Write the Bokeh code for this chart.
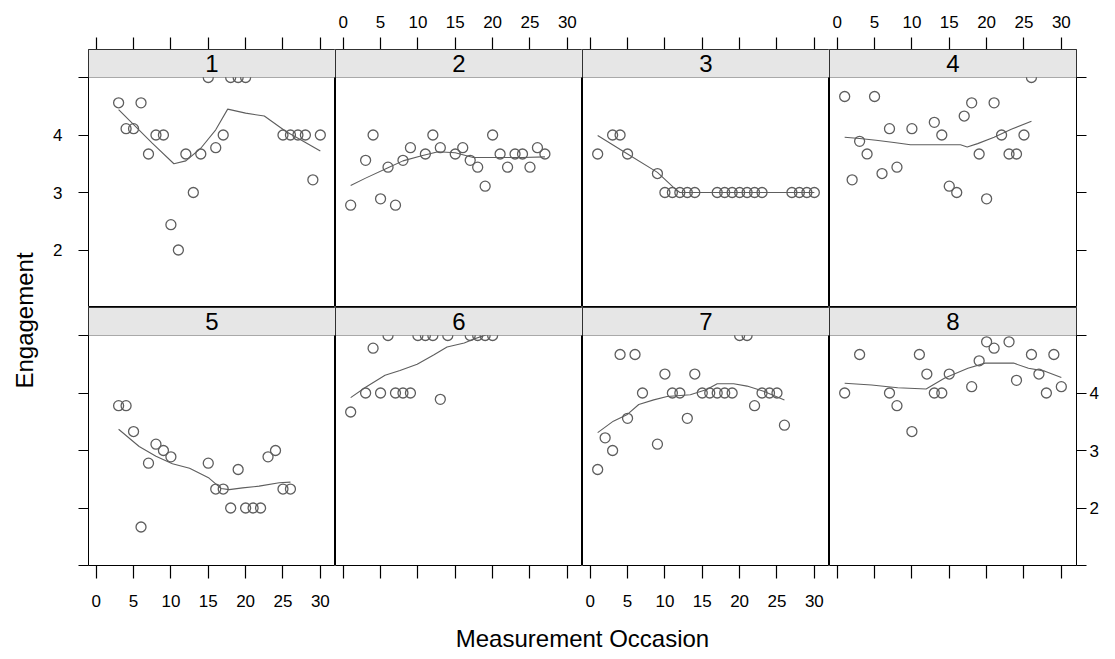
from bokeh.plotting import figure
from bokeh.models import Range1d, FixedTicker, BoxAnnotation, Label, LinearAxis
from bokeh.layouts import row, column
from bokeh.embed import file_html
from bokeh.resources import INLINE

# ---------------------------------------------------------------------------
# Engagement ratings per subject across measurement occasions
# ---------------------------------------------------------------------------
subjects = ["1", "2", "3", "4", "5", "6", "7", "8"]

occasion_1 = [3, 4, 5, 6, 7, 8, 9, 10, 11, 12, 13, 14, 15, 16, 17, 18, 19, 20, 25, 26, 27, 28, 29, 30]
engagement_1 = [4.56, 4.11, 4.11, 4.56, 3.67, 4.0, 4.0, 2.44, 2.0, 3.67, 3.0, 3.67, 5.0, 3.78, 4.0, 5.0,
                5.0, 5.0, 4.0, 4.0, 4.0, 4.0, 3.22, 4.0]

occasion_2 = [1, 3, 4, 5, 6, 7, 8, 9, 11, 12, 13, 15, 16, 17, 18, 19, 20, 21, 22, 23, 24, 25, 26, 27]
engagement_2 = [2.78, 3.56, 4.0, 2.89, 3.44, 2.78, 3.56, 3.78, 3.67, 4.0, 3.78, 3.67, 3.78, 3.56, 3.44,
                3.11, 4.0, 3.67, 3.44, 3.67, 3.67, 3.44, 3.78, 3.67]

occasion_3 = [1, 3, 4, 5, 9, 10, 11, 12, 13, 14, 17, 18, 19, 20, 21, 22, 23, 27, 28, 29, 30]
engagement_3 = [3.67, 4.0, 4.0, 3.67, 3.33, 3.0, 3.0, 3.0, 3.0, 3.0, 3.0, 3.0, 3.0, 3.0, 3.0, 3.0, 3.0,
                3.0, 3.0, 3.0, 3.0]

occasion_4 = [1, 2, 3, 4, 5, 6, 7, 8, 10, 13, 14, 15, 16, 17, 18, 19, 20, 21, 22, 23, 24, 25, 26]
engagement_4 = [4.67, 3.22, 3.89, 3.67, 4.67, 3.33, 4.11, 3.44, 4.11, 4.22, 4.0, 3.11, 3.0, 4.33, 4.56,
                3.67, 2.89, 4.56, 4.0, 3.67, 3.67, 4.0, 5.0]

occasion_5 = [3, 4, 5, 6, 7, 8, 9, 10, 15, 16, 17, 18, 19, 20, 21, 22, 23, 24, 25, 26]
engagement_5 = [3.78, 3.78, 3.33, 1.67, 2.78, 3.11, 3.0, 2.89, 2.78, 2.33, 2.33, 2.0, 2.67, 2.0, 2.0,
                2.0, 2.89, 3.0, 2.33, 2.33]

occasion_6 = [1, 3, 4, 5, 6, 7, 8, 9, 10, 11, 12, 13, 14, 17, 18, 19, 20]
engagement_6 = [3.67, 4.0, 4.78, 4.0, 5.0, 4.0, 4.0, 4.0, 5.0, 5.0, 5.0, 3.89, 5.0, 5.0, 5.0, 5.0, 5.0]

occasion_7 = [1, 2, 3, 4, 5, 6, 7, 9, 10, 11, 12, 13, 14, 15, 16, 17, 18, 19, 20, 21, 22, 23, 24, 25, 26]
engagement_7 = [2.67, 3.22, 3.0, 4.67, 3.56, 4.67, 4.0, 3.11, 4.33, 4.0, 4.0, 3.56, 4.33, 4.0, 4.0, 4.0,
                4.0, 4.0, 5.0, 5.0, 3.78, 4.0, 4.0, 4.0, 3.44]

occasion_8 = [1, 3, 7, 8, 10, 11, 12, 13, 14, 15, 18, 19, 20, 21, 23, 24, 26, 27, 28, 29, 30]
engagement_8 = [4.0, 4.67, 4.0, 3.78, 3.33, 4.67, 4.33, 4.0, 4.0, 4.33, 4.11, 4.56, 4.89, 4.78, 4.89,
                4.22, 4.67, 4.33, 4.0, 4.67, 4.11]

# smoothed trend per subject
smooth_x_1 = [3.0, 7.5, 10.4, 12.0, 14.0, 16.0, 17.6, 20.0, 22.5, 25.4, 27.6, 30.0]
smooth_y_1 = [4.44, 3.86, 3.50, 3.55, 3.77, 4.09, 4.45, 4.38, 4.33, 4.06, 3.90, 3.72]
smooth_x_2 = [1.0, 3.0, 6.0, 8.0, 10.5, 12.7, 15.0, 17.4, 21.0, 24.0, 27.0]
smooth_y_2 = [3.12, 3.25, 3.43, 3.55, 3.64, 3.71, 3.69, 3.61, 3.61, 3.61, 3.62]
smooth_x_3 = [1.0, 5.0, 9.0, 11.4, 12.0, 30.0]
smooth_y_3 = [3.99, 3.67, 3.35, 3.06, 3.0, 3.0]
smooth_x_4 = [1.0, 3.0, 5.2, 7.6, 9.8, 16.5, 17.4, 18.8, 21.0, 23.3, 26.0]
smooth_y_4 = [3.96, 3.94, 3.91, 3.87, 3.83, 3.83, 3.79, 3.85, 3.96, 4.10, 4.24]
smooth_x_5 = [3.0, 5.75, 8.0, 10.2, 12.5, 15.1, 16.7, 17.8, 19.6, 21.8, 24.5, 26.0]
smooth_y_5 = [3.37, 3.07, 2.90, 2.77, 2.69, 2.52, 2.34, 2.32, 2.35, 2.38, 2.44, 2.45]
smooth_x_6 = [1.0, 3.0, 5.6, 7.6, 9.9, 12.1, 13.9, 16.2, 17.5, 20.0]
smooth_y_6 = [3.92, 4.10, 4.31, 4.39, 4.50, 4.66, 4.80, 4.87, 4.94, 5.05]
smooth_x_7 = [1.0, 3.1, 4.9, 6.5, 8.5, 10.3, 13.4, 15.6, 17.0, 19.2, 21.0, 23.2, 26.0]
smooth_y_7 = [3.31, 3.51, 3.62, 3.80, 3.88, 3.94, 3.97, 4.06, 4.16, 4.16, 4.12, 4.03, 3.88]
smooth_x_8 = [1.0, 4.6, 8.1, 11.9, 14.4, 17.5, 19.8, 23.6, 25.6, 27.8, 30.0]
smooth_y_8 = [4.17, 4.14, 4.09, 4.07, 4.26, 4.43, 4.52, 4.52, 4.43, 4.38, 4.27]

x_ticks = [0, 5, 10, 15, 20, 25, 30]
y_ticks = [1, 2, 3, 4, 5]
y_tick_labels = {1: "", 2: "2", 3: "3", 4: "4", 5: ""}
x_limits = (-1.03, 32.03)
y_limits = (1.0, 5.0)

x_title = "Measurement Occasion"
y_title = "Engagement"

occasions = [occasion_1, occasion_2, occasion_3, occasion_4,
             occasion_5, occasion_6, occasion_7, occasion_8]
engagements = [engagement_1, engagement_2, engagement_3, engagement_4,
               engagement_5, engagement_6, engagement_7, engagement_8]
smooth_xs = [smooth_x_1, smooth_x_2, smooth_x_3, smooth_x_4,
             smooth_x_5, smooth_x_6, smooth_x_7, smooth_x_8]
smooth_ys = [smooth_y_1, smooth_y_2, smooth_y_3, smooth_y_4,
             smooth_y_5, smooth_y_6, smooth_y_7, smooth_y_8]

# ---------------------------------------------------------------------------
# layout geometry (pixels)
# ---------------------------------------------------------------------------
FONT = "Liberation Sans"
TICK_FONT = "17px"
TITLE_FONT = "24px"
INK = "#5e5e5e"

YLAB_W = 40
LEFT_B = 48          # left border of first column (tick labels)
RIGHT_B = 39         # right border of last column
TOP_B = 49           # top border above first row (tick labels)
BOTTOM_B = 50        # bottom border below second row
XLAB_H = 44
PANEL_W = 247
PANEL_H = 230
STRIP_H = 28
TOTAL_H = TOP_B + 2 * (PANEL_H + STRIP_H) + BOTTOM_B + XLAB_H

strip_units = STRIP_H * (y_limits[1] - y_limits[0]) / PANEL_H


def style_axis(ax, labelled, tick_out, standoff, overrides=None):
    ax.axis_line_color = None
    ax.minor_tick_line_color = None
    ax.major_tick_line_color = "black"
    ax.major_tick_line_width = 1.2
    ax.major_tick_in = 0
    ax.major_tick_out = tick_out
    ax.major_label_standoff = standoff
    ax.major_label_text_font = FONT
    ax.major_label_text_font_size = TICK_FONT
    ax.major_label_text_color = "black"
    if labelled:
        if overrides:
            ax.major_label_overrides = overrides
    else:
        ax.major_label_overrides = {t: "" for t in ax.ticker.ticks}


def make_panel(k, r, c):
    left = LEFT_B if c == 0 else 0
    right = RIGHT_B if c == 3 else 0
    top = TOP_B if r == 0 else 0
    bottom = BOTTOM_B if r == 1 else 0
    p = figure(width=left + PANEL_W + right, height=top + PANEL_H + STRIP_H + bottom,
               x_range=Range1d(*x_limits),
               y_range=Range1d(y_limits[0], y_limits[1] + strip_units),
               x_axis_location=None, y_axis_location=None,
               toolbar_location=None, output_backend="svg",
               min_border_left=left, min_border_right=right,
               min_border_top=top, min_border_bottom=bottom)
    p.xgrid.visible = False
    p.ygrid.visible = False
    p.outline_line_color = "black"
    p.outline_line_width = 1.0
    p.background_fill_color = "white"
    p.border_fill_color = "white"

    # horizontal axes on the outer rows, labels alternating between columns
    if r == 0:
        ax = LinearAxis(ticker=FixedTicker(ticks=x_ticks))
        style_axis(ax, c in (1, 3), 12, 10)
        p.add_layout(ax, "above")
    else:
        ax = LinearAxis(ticker=FixedTicker(ticks=x_ticks))
        style_axis(ax, c in (0, 2), 13, 16)
        p.add_layout(ax, "below")

    # vertical axes on the outer columns, labels alternating between rows
    if c == 0:
        ay = LinearAxis(ticker=FixedTicker(ticks=y_ticks))
        style_axis(ay, r == 0, 10, 16, y_tick_labels)
        p.add_layout(ay, "left")
    if c == 3:
        ay = LinearAxis(ticker=FixedTicker(ticks=y_ticks))
        style_axis(ay, r == 1, 10, 3, y_tick_labels)
        p.add_layout(ay, "right")

    p.line(smooth_xs[k], smooth_ys[k], line_color=INK, line_width=1.1)
    p.scatter(occasions[k], engagements[k], marker="circle", size=10,
              fill_color=None, line_color=INK, line_width=1.3)

    # strip with the subject id, drawn over the top of the frame
    strip = BoxAnnotation(bottom=y_limits[1], fill_color="#e6e6e6", fill_alpha=1.0,
                          line_color="black", line_width=1.0)
    p.add_layout(strip)
    p.add_layout(Label(x=(x_limits[0] + x_limits[1]) / 2,
                       y=y_limits[1] + strip_units / 2,
                       text=subjects[k], text_align="center", text_baseline="middle",
                       text_font=FONT, text_font_size=TITLE_FONT, text_color="black"))
    return p


top_row = [make_panel(k, 0, k) for k in range(4)]
bottom_row = [make_panel(k + 4, 1, k) for k in range(4)]

# x title spanning all columns
xlab = figure(width=LEFT_B + 4 * PANEL_W + RIGHT_B, height=XLAB_H,
              x_range=Range1d(0, 1), y_range=Range1d(0, 1),
              x_axis_location=None, y_axis_location=None,
              toolbar_location=None, output_backend="svg",
              min_border_left=LEFT_B, min_border_right=RIGHT_B,
              min_border_top=0, min_border_bottom=XLAB_H - 1)
xlab.xgrid.visible = False
xlab.ygrid.visible = False
xlab.outline_line_color = None
xax = LinearAxis(ticker=FixedTicker(ticks=[]), axis_label=x_title)
xax.axis_line_color = None
xax.major_tick_line_color = None
xax.minor_tick_line_color = None
xax.axis_label_standoff = 8
xax.axis_label_text_font = FONT
xax.axis_label_text_font_size = TITLE_FONT
xax.axis_label_text_font_style = "normal"
xax.axis_label_text_color = "black"
xlab.add_layout(xax, "below")

# y title spanning both rows
ylab = figure(width=YLAB_W, height=TOTAL_H,
              x_range=Range1d(0, 1), y_range=Range1d(0, 1),
              x_axis_location=None, y_axis_location=None,
              toolbar_location=None, output_backend="svg",
              min_border_left=37, min_border_right=0,
              min_border_top=TOP_B + 26, min_border_bottom=BOTTOM_B + XLAB_H)
ylab.xgrid.visible = False
ylab.ygrid.visible = False
ylab.outline_line_color = None
yax = LinearAxis(ticker=FixedTicker(ticks=[]), axis_label=y_title)
yax.axis_line_color = None
yax.major_tick_line_color = None
yax.minor_tick_line_color = None
yax.axis_label_standoff = 0
yax.axis_label_text_font = FONT
yax.axis_label_text_font_size = TITLE_FONT
yax.axis_label_text_font_style = "normal"
yax.axis_label_text_color = "black"
ylab.add_layout(yax, "left")

panels = column(row(*top_row, spacing=0), row(*bottom_row, spacing=0), xlab, spacing=0)
page = row(ylab, panels, spacing=0)

open("out.html", "w").write(file_html(page, INLINE))
